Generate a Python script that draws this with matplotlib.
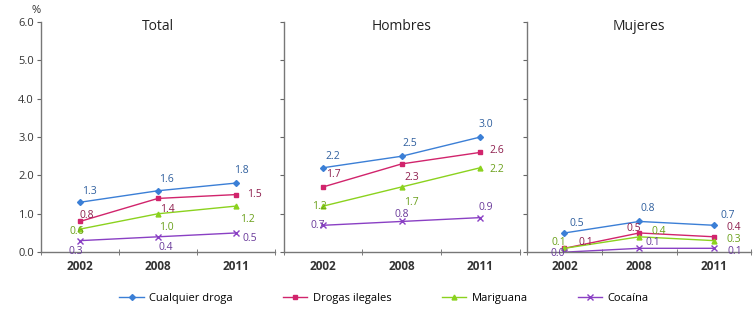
import matplotlib
matplotlib.use("Agg")
import matplotlib.pyplot as plt
from matplotlib.lines import Line2D

plt.rcParams['font.family'] = ['Open Sans', 'DejaVu Sans']

years = ["2002", "2008", "2011"]
panels = ["Total", "Hombres", "Mujeres"]
series = ["Cualquier droga", "Drogas ilegales", "Mariguana", "Cocaína"]

total = {
    "Cualquier droga": [1.3, 1.6, 1.8],
    "Drogas ilegales": [0.8, 1.4, 1.5],
    "Mariguana": [0.6, 1.0, 1.2],
    "Cocaína": [0.3, 0.4, 0.5],
}
hombres = {
    "Cualquier droga": [2.2, 2.5, 3.0],
    "Drogas ilegales": [1.7, 2.3, 2.6],
    "Mariguana": [1.2, 1.7, 2.2],
    "Cocaína": [0.7, 0.8, 0.9],
}
mujeres = {
    "Cualquier droga": [0.5, 0.8, 0.7],
    "Drogas ilegales": [0.1, 0.5, 0.4],
    "Mariguana": [0.1, 0.4, 0.3],
    "Cocaína": [0.0, 0.1, 0.1],
}
data = [total, hombres, mujeres]
yticks = [0.0, 1.0, 2.0, 3.0, 4.0, 5.0, 6.0]

colors = {"Cualquier droga": "#3b7fd6", "Drogas ilegales": "#d1246c",
          "Mariguana": "#8bd21e", "Cocaína": "#8a40c4"}
markers = {"Cualquier droga": "D", "Drogas ilegales": "s",
           "Mariguana": "^", "Cocaína": "x"}
msizes = {"Cualquier droga": 3, "Drogas ilegales": 3.5,
          "Mariguana": 3.5, "Cocaína": 4}
txtcolors = {"Cualquier droga": "#2f5f9e", "Drogas ilegales": "#8e1f4e",
             "Mariguana": "#6aa01a", "Cocaína": "#6a3a9a"}

# label offsets in points per panel, series, point
offs = [
    {"Cualquier droga": [(7, 8), (6, 8), (4, 9)],
     "Drogas ilegales": [(5, 4), (7, -8), (13, 0)],
     "Mariguana": [(-2, -2), (6, -10), (8, -10)],
     "Cocaína": [(-3, -8), (6, -8), (10, -4)]},
    {"Cualquier droga": [(7, 8), (6, 9), (4, 9)],
     "Drogas ilegales": [(7, 9), (7, -10), (12, 1)],
     "Mariguana": [(-3, 0), (7, -11), (12, -1)],
     "Cocaína": [(-4, 0), (0, 5), (4, 7)]},
    {"Cualquier droga": [(9, 7), (6, 9), (10, 7)],
     "Drogas ilegales": [(15, 4), (-4, 3), (14, 7)],
     "Mariguana": [(-4, 4), (14, 4), (14, 1)],
     "Cocaína": [(-5, -1), (10, 4), (15, -2)]},
]

fig = plt.figure(figsize=(7.53, 3.09), dpi=100)
lefts = [0.0544, 0.377, 0.700]
rights = [0.365, 0.690, 0.998]
bottom, top = 0.184, 0.929
axes = []
for i in range(3):
    ax = fig.add_axes([lefts[i], bottom, rights[i] - lefts[i], top - bottom])
    axes.append(ax)
    x = list(range(len(years)))
    for s in series:
        ax.plot(x, data[i][s], color=colors[s], marker=markers[s],
                markersize=msizes[s], linewidth=1.0, markeredgewidth=1.0)
        for j, v in enumerate(data[i][s]):
            dx, dy = offs[i][s][j]
            ax.annotate(f"{v:.1f}", (j, v), xytext=(dx, dy),
                        textcoords="offset points", ha="center", va="center",
                        fontsize=7.5, color=txtcolors[s])
    ax.set_xlim(-0.5, 2.5)
    ax.set_ylim(0, 6.0)
    ax.set_yticks(yticks)
    if i == 0:
        ax.set_yticklabels([f"{t:.1f}" for t in yticks], fontsize=8, color="#333333")
    else:
        ax.set_yticklabels([])
    ax.set_xticks(x)
    ax.set_xticklabels(years, fontsize=8.5, fontweight="bold", color="#333333")
    ax.tick_params(axis="x", which="major", length=0, pad=6)
    ax.set_xticks([-0.5, 0.5, 1.5, 2.5], minor=True)
    ax.tick_params(axis="x", which="minor", length=5, direction="inout", color="#666666")
    ax.tick_params(axis="y", length=3, direction="out", color="#666666", pad=2)
    for sp in ["top", "right"]:
        ax.spines[sp].set_visible(False)
    for sp in ["left", "bottom"]:
        ax.spines[sp].set_color("#777777")
        ax.spines[sp].set_linewidth(1.0)
    ax.set_title(panels[i], fontsize=10, color="#222222", y=0.93)
    ax.patch.set_alpha(0)

fig.text(0.048, 0.965, "%", fontsize=8, color="#333333", ha="center", va="center")

handles = [Line2D([0], [0], color=colors[s], marker=markers[s],
                  markersize=msizes[s], linewidth=1.0) for s in series]
fig.legend(handles, series, loc="center", bbox_to_anchor=(0.51, 0.035), ncol=4,
           frameon=False, fontsize=8, columnspacing=4.5, handlelength=2.2,
           handletextpad=0.5)

fig.savefig("out.png", dpi=100)
